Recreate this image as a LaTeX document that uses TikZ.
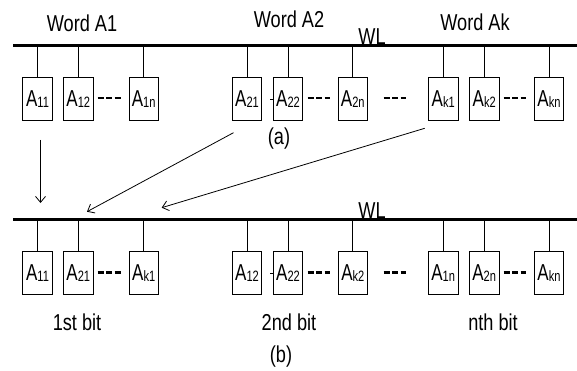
\documentclass[tikz,border=0pt]{standalone}
\usepackage{fontspec}
\setmainfont{Liberation Sans}
\usetikzlibrary{arrows.meta}
\newcommand\sq[1]{\scalebox{0.79}[1]{#1}}
\newcommand\cellab[1]{\scalebox{0.74}[1]{A\raisebox{-1pt}{\fontsize{15}{15}\selectfont #1}}}
\tikzset{
  txt/.style={inner sep=0pt, font=\fontsize{23}{25}\selectfont},
  cell/.style={draw, line width=0.8pt, minimum width=29.5pt, minimum height=43.5pt, inner sep=0pt, font=\fontsize{23}{25}\selectfont},
  wl/.style={line width=3pt},
  stem/.style={line width=0.8pt},
  dots/.style={line width=2.8pt, dash pattern=on 6pt off 2.5pt},
  arr/.style={line width=0.8pt, -{Straight Barb[length=6pt,width=10pt]}}
}
\begin{document}
\begin{tikzpicture}[x=1pt,y=-1pt]
\useasboundingbox (0,0) rectangle (577,371);
% ---- (a) ----
\coordinate (wlaL) at (13,46);
\coordinate (wlaR) at (577,46);
\draw[wl] (wlaL) -- (wlaR);
\node[txt] (wa1) at (82,23) {\sq{Word A1}};
\node[txt] (wa2) at (289,19) {\sq{Word A2}};
\node[txt] (wak) at (475,22.5) {\sq{Word Ak}};
\node[txt, anchor=base] (wla) at (372,44.5) {\sq{WL}};
\foreach \n/\x/\s in {a11/37.5/11, a12/78.3/12, a1n/143.7/1n, a21/247/21, a22/288/22, a2n/352.8/2n, ak1/443.2/k1, ak2/484.2/k2, akn/549/kn}{
  \node[cell] (t\n) at (\x,99) {\cellab{\s}};
  \draw[stem] (t\n.north) -- (t\n.north |- wlaL);
}
\coordinate (ta) at (97.7,98); \coordinate (tb) at (120.7,98);
\draw[dots] (ta) -- (tb);
\coordinate (tc) at (307.7,98); \coordinate (td) at (329.7,98);
\draw[dots] (tc) -- (td);
\coordinate (te) at (383.7,98); \coordinate (tf) at (406.3,98);
\draw[dots] (te) -- (tf);
\coordinate (tg) at (503.7,98); \coordinate (th) at (526.3,98);
\draw[dots] (tg) -- (th);
\coordinate (tt) at (270,99);
\draw[stem] (tt) -- (tt -| ta22.west);
\node[txt] (capa) at (279,139) {\sq{(a)}};
% ---- arrows ----
\coordinate (s1) at (40.5,140); \coordinate (e1) at (40.5,203);
\draw[arr] (s1) -- (e1);
\coordinate (s2) at (233.5,132.7); \coordinate (e2) at (87,211.7);
\draw[arr] (s2) -- (e2);
\coordinate (s3) at (424.7,128.3); \coordinate (e3) at (161.7,207.7);
\draw[arr] (s3) -- (e3);
% ---- (b) ----
\coordinate (wlbL) at (13,219.5);
\coordinate (wlbR) at (577,219.5);
\draw[wl] (wlbL) -- (wlbR);
\node[txt, anchor=base] (wlb) at (372,218) {\sq{WL}};
\foreach \n/\x/\s in {a11/37.5/11, a21/78.3/21, ak1/143.7/k1, a12/247/12, a22/288/22, ak2/352.8/k2, a1n/443.2/1n, a2n/484.2/2n, akn/549/kn}{
  \node[cell] (b\n) at (\x,273) {\cellab{\s}};
  \draw[stem] (b\n.north) -- (b\n.north |- wlbL);
}
\coordinate (ba) at (97.7,272.3); \coordinate (bb) at (120.7,272.3);
\draw[dots] (ba) -- (bb);
\coordinate (bc) at (307.7,272.3); \coordinate (bd) at (329.7,272.3);
\draw[dots] (bc) -- (bd);
\coordinate (be) at (383.7,272.3); \coordinate (bf) at (406.3,272.3);
\draw[dots] (be) -- (bf);
\coordinate (bg) at (503.7,272.3); \coordinate (bh) at (526.3,272.3);
\draw[dots] (bg) -- (bh);
\coordinate (bt) at (270,273);
\draw[stem] (bt) -- (bt -| ba22.west);
\node[txt] (b1) at (77,322) {\sq{1st bit}};
\node[txt] (b2) at (289,322) {\sq{2nd bit}};
\node[txt] (bn) at (493,322) {\sq{nth bit}};
\node[txt] (capb) at (281,357) {\sq{(b)}};
\end{tikzpicture}
\end{document}
